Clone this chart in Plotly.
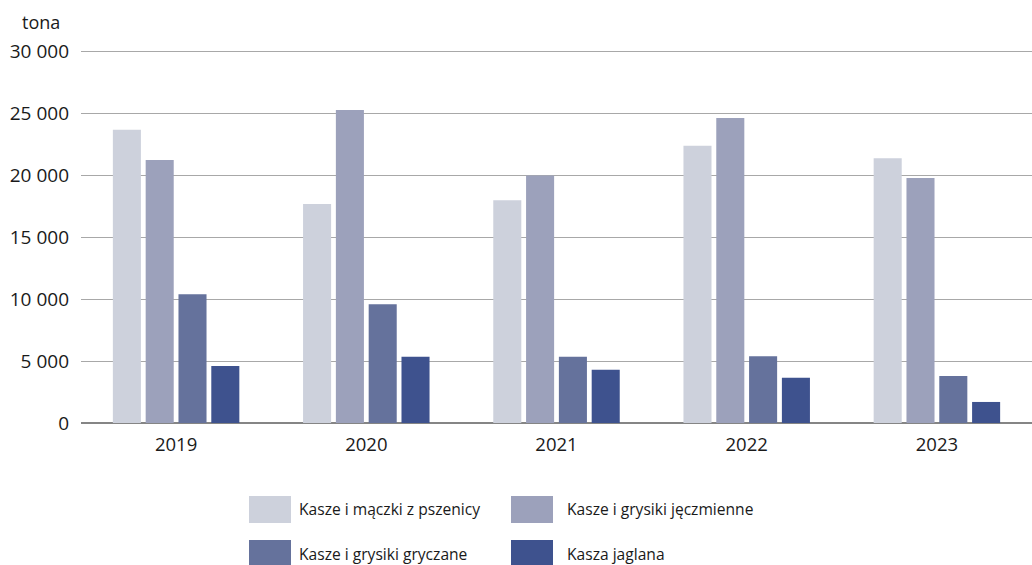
import plotly.graph_objects as go

years = ["2019", "2020", "2021", "2022", "2023"]
series_names = [
    "Kasze i mączki z pszenicy",
    "Kasze i grysiki jęczmienne",
    "Kasze i grysiki gryczane",
    "Kasza jaglana",
]
wheat = [23700, 17700, 18000, 22400, 21400]
barley = [21250, 25300, 20000, 24650, 19800]
buckwheat = [10400, 9600, 5350, 5400, 3800]
millet = [4600, 5350, 4300, 3650, 1700]
series_values = [wheat, barley, buckwheat, millet]
colors = ["#cdd1dc", "#9ca1bb", "#65729c", "#3e528e"]

tick_vals = [0, 5000, 10000, 15000, 20000, 25000, 30000]
tick_text = ["0", "5 000", "10 000", "15 000", "20 000", "25 000", "30 000"]

W, H = 1032, 565
L, R, T, B = 81, 0, 48, 142
FONT = "Open Sans"

fig = go.Figure()
for name, vals, col in zip(series_names, series_values, colors):
    fig.add_trace(go.Bar(x=years, y=vals, name=name, marker=dict(color=col, line=dict(width=0)),
                         showlegend=False))

pw = W - L - R
ph = H - T - B


def px_x(p):
    return (p - L) / pw


def px_y(p):
    return (H - B - p) / ph


# custom legend (2 x 2): swatch left/top and text left, in pixels
legend_pos = [(249, 496, 297), (511, 496, 565), (249, 540, 297), (511, 540, 565)]
shapes = []
annotations = []
for (lx, ly, tx), name, col in zip(legend_pos, series_names, colors):
    shapes.append(dict(type="rect", xref="paper", yref="paper",
                       x0=px_x(lx), x1=px_x(lx + 42), y0=px_y(ly + 27), y1=px_y(ly),
                       fillcolor=col, line=dict(width=0)))
    annotations.append(dict(text=name, xref="paper", yref="paper", x=px_x(tx),
                            y=px_y(ly + 13.5), xanchor="left", yanchor="middle", showarrow=False,
                            font=dict(family=FONT, size=15.6, color="#1a1a1a")))

annotations.append(dict(text="tona", xref="paper", yref="paper", x=px_x(40.5), y=px_y(22),
                        xanchor="center", yanchor="middle", showarrow=False,
                        font=dict(family=FONT, size=18, color="#1a1a1a")))

fig.update_layout(
    width=W, height=H,
    margin=dict(l=L, r=R, t=T, b=B, pad=0),
    paper_bgcolor="white", plot_bgcolor="white",
    barmode="group", bargap=0.31, bargroupgap=0.145,
    font=dict(family=FONT, size=18, color="#1a1a1a"),
    shapes=shapes, annotations=annotations,
    xaxis=dict(showgrid=False, ticks="", showline=False, tickfont=dict(size=18.5),
               ticklabelstandoff=8),
    yaxis=dict(range=[0, 30300], tickvals=tick_vals, ticktext=tick_text, showgrid=True,
               gridcolor="#a8a8a8", gridwidth=1.3, zeroline=True, zerolinecolor="#858585",
               zerolinewidth=1.5, showline=False, ticks="", tickfont=dict(size=19),
               ticklabelstandoff=11),
)

fig.write_html(
    "out.html",
    config={"displayModeBar": False},
    post_script="document.body.style.margin='0';document.body.style.overflow='hidden';",
)
